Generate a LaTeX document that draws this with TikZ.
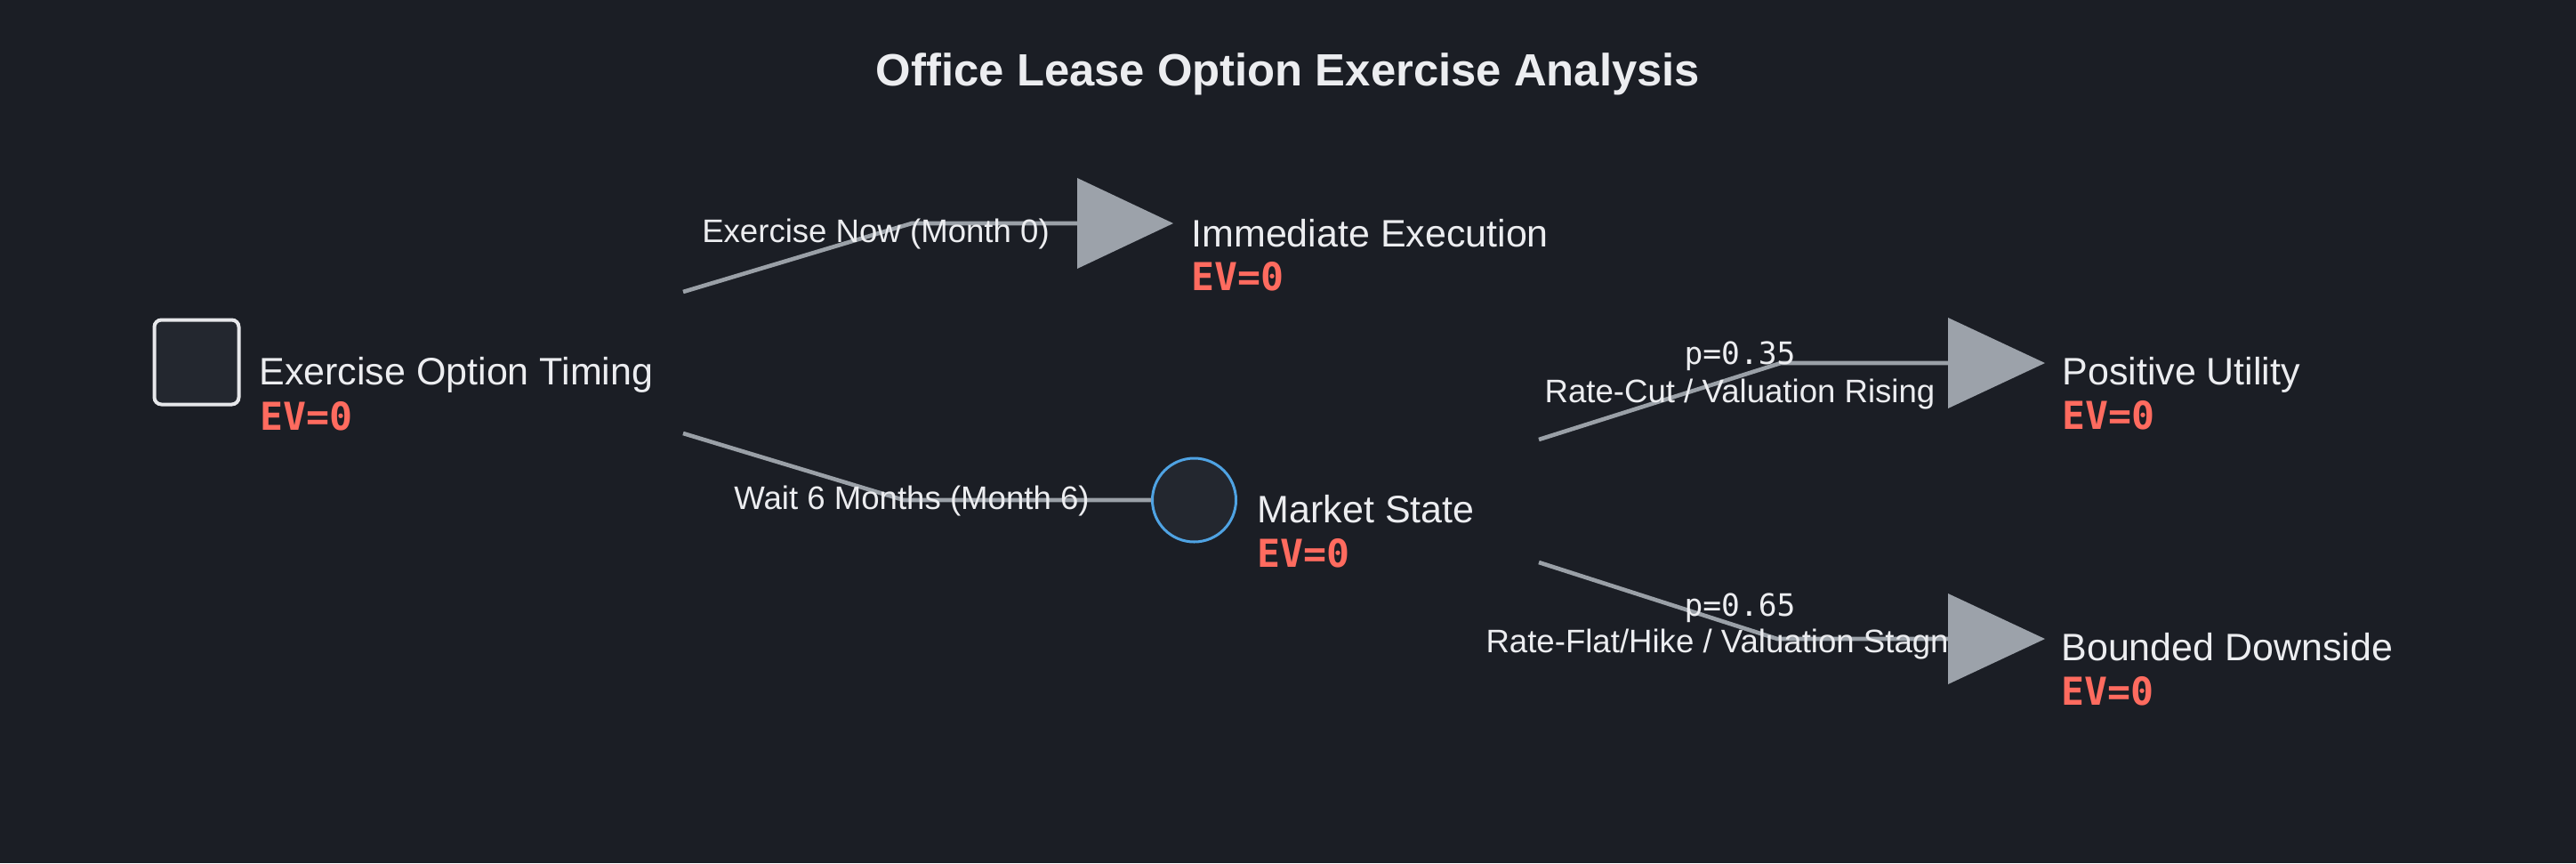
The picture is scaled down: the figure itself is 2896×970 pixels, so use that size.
\documentclass[tikz,border=0pt]{standalone}
\usepackage{fontspec}
\setmainfont{Liberation Sans}
\newfontfamily\monofont{DejaVu Sans Mono}
\definecolor{bgc}{HTML}{1B1E25}
\definecolor{nodefill}{HTML}{23272F}
\definecolor{sqborder}{HTML}{E6E7EA}
\definecolor{circborder}{HTML}{4FA3E3}
\definecolor{linegray}{HTML}{9AA0A7}
\definecolor{trigray}{HTML}{9CA2AA}
\definecolor{txt}{HTML}{ECEDF0}
\definecolor{evred}{HTML}{FF6B5F}
\begin{document}
\begin{tikzpicture}[x=0.5pt,y=-0.5pt,
  decisionbox/.style={draw=sqborder, fill=nodefill, line width=2pt, rounded corners=4pt, minimum size=47.5pt, inner sep=0},
  chancebox/.style={draw=circborder, fill=nodefill, line width=1.5pt, circle, minimum size=47pt, inner sep=0},
  nodelabel/.style={anchor=base west, inner sep=0, text=txt, font=\fontsize{21.5}{24}\selectfont},
  evlabel/.style={anchor=base west, inner sep=0, text=evred, font=\monofont\bfseries\fontsize{21.6}{24}\selectfont},
  edgelabel/.style={anchor=base, inner sep=0, text=txt, font=\fontsize{18.3}{20}\selectfont},
  problabel/.style={anchor=base, inner sep=0, text=txt, font=\monofont\fontsize{17.3}{19}\selectfont},
  branch/.style={draw=linegray, line width=2.3pt},
  leaf/.style={fill=trigray}]
\fill[bgc] (0,0) rectangle (2896,970);
\useasboundingbox (0,0) rectangle (2896,970);

\node[anchor=base, inner sep=0, text=txt, font=\bfseries\fontsize{25.4}{28}\selectfont] (title) at (1448,96) {Office Lease Option Exercise Analysis};

% nodes
\node[decisionbox] (D) at (221,407) {};
\node[chancebox] (C) at (1342.5,562) {};
\coordinate (L1) at (1319,251);
\coordinate (L1w) at (1211,251);
\coordinate (L2) at (2299,408);
\coordinate (L2w) at (2190,408);
\coordinate (L3) at (2299,718);
\coordinate (L3w) at (2190,718);
\coordinate (Dout1) at (768,328);
\coordinate (Dout2) at (768,487);
\coordinate (Cout1) at (1730,494);
\coordinate (Cout2) at (1730,632);

% branches
\draw[branch] (Dout1) -- (1025,251) -- (L1w);
\draw[branch] (Dout2) -- (1016,562) -- (C.west);
\draw[branch] (Cout1) -- (2002,408) -- (L2w);
\draw[branch] (Cout2) -- (1998,718) -- (L3w);

% branch labels
\node[edgelabel] (e1) at (984.5,272) {Exercise Now (Month 0)};
\node[edgelabel] (e2) at (1025,572) {Wait 6 Months (Month 6)};
\node[problabel] (p1) at (1956,409) {p=0.35};
\node[edgelabel] (e3) at (1956,452) {Rate-Cut / Valuation Rising};
\node[problabel] (p2) at (1956,692) {p=0.65};
\node[edgelabel] (e4) at (1956,733) {Rate-Flat/Hike / Valuation Stagnant};

% leaf triangles
\fill[leaf] (L1) -- ++(-108,-51) -- ++(0,102) -- cycle;
\fill[leaf] (L2) -- ++(-109,-51) -- ++(0,102) -- cycle;
\fill[leaf] (L3) -- ++(-109,-51) -- ++(0,102) -- cycle;

% node labels
\node[nodelabel] (Dl) at (291,432) {Exercise Option Timing};
\node[evlabel] (Dev) at (292,483) {EV=0};
\node[nodelabel] (L1l) at (1339,277) {Immediate Execution};
\node[evlabel] (L1ev) at (1339,326) {EV=0};
\node[nodelabel] (Cl) at (1413.5,587) {Market State};
\node[evlabel] (Cev) at (1413.5,637) {EV=0};
\node[nodelabel] (L2l) at (2318,432) {Positive Utility};
\node[evlabel] (L2ev) at (2318,482) {EV=0};
\node[nodelabel] (L3l) at (2317,742) {Bounded Downside};
\node[evlabel] (L3ev) at (2317,792) {EV=0};
\end{tikzpicture}
\end{document}
